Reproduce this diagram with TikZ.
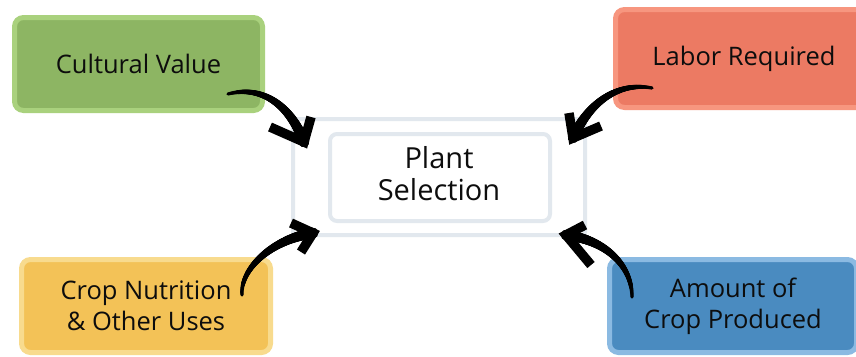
\documentclass[tikz,border=0pt]{standalone}
\usepackage{fontspec}
\setmainfont{Open Sans}
\usetikzlibrary{decorations.markings}
\definecolor{gfill}{HTML}{8DB563}
\definecolor{gline}{HTML}{A9D17D}
\definecolor{rfill}{HTML}{EC7A63}
\definecolor{rline}{HTML}{F7967F}
\definecolor{yfill}{HTML}{F3C257}
\definecolor{yline}{HTML}{F8DB8E}
\definecolor{bfill}{HTML}{4A8BC0}
\definecolor{bline}{HTML}{8BBAE2}
\definecolor{cline}{HTML}{E2E8EE}
\definecolor{txt}{HTML}{0D0D0D}
\tikzset{
  box/.style={rounded corners=9pt, line width=5pt, align=center, inner sep=0pt,
    text=txt, font=\fontsize{25.5}{31}\selectfont},
  frame/.style={draw=cline, line width=4pt, inner sep=0pt},
  brush/.style={decorate, decoration={markings,
    mark=between positions 0 and 1 step 0.5pt with {
      \pgfmathsetmacro\brushr{1.6+3.9*\pgfkeysvalueof{/pgf/decoration/mark info/distance from start}/\pgfdecoratedpathlength}
      \fill[black] (0,0) circle[radius=\brushr pt];}}},
  head/.style={draw=black, line width=9.5pt, line join=miter, miter limit=20}
}
\begin{document}
\begin{tikzpicture}[x=1pt,y=-1pt]
\useasboundingbox (0,0) rectangle (856,356);
\clip (0,0) rectangle (856,356);
\fill[white] (0,0) rectangle (856,356);
% central
\node[frame, rounded corners=3pt, minimum width=292pt, minimum height=116pt] (outer) at (439,177) {};
\node[frame, rounded corners=7pt, minimum width=220pt, minimum height=87pt] (inner) at (440,177.5) {};
\node[align=center, inner sep=0pt, text=txt, font=\fontsize{29}{32}\selectfont] (center) at (439,174) {Plant\\Selection};
% boxes
\node[box, draw=gline, fill=gfill, minimum width=248pt, minimum height=93pt] (green) at (138.5,64) {Cultural Value};
\node[box, draw=rline, fill=rfill, minimum width=257pt, minimum height=98pt] (red) at (744,58.5) {Labor Required};
\node[box, draw=yline, fill=yfill, minimum width=249pt, minimum height=93pt] (yellow) at (146,306) {Crop Nutrition\\\& Other Uses};
\node[box, draw=bline, fill=bfill, minimum width=247pt, minimum height=93pt] (blue) at (733,306) {Amount of\\Crop Produced};
% arrow coordinates
\coordinate (t1) at (228,94);  \coordinate (p1) at (304,142);
\coordinate (t2) at (652,88);  \coordinate (p2) at (573,138);
\coordinate (t3) at (242,295); \coordinate (p3) at (313,233);
\coordinate (t4) at (632,297); \coordinate (p4) at (566,235);
% arrows
\path[brush] (t1) .. controls (262,85) and (290,105) .. (p1);
\draw[head] (270,127) -- (p1) -- (311,117);
\path[brush] (t2) .. controls (620,82) and (590,100) .. (p2);
\draw[head] (569,113) -- (p2) -- (601,126);
\path[brush] (t3) .. controls (240,270) and (270,240) .. (p3);
\draw[head] (291,223) -- (p3) -- (301,252);
\path[brush] (t4) .. controls (632,265) and (605,240) .. (p4);
\draw[head] (585,225) -- (p4) -- (591,265);
\end{tikzpicture}
\end{document}
